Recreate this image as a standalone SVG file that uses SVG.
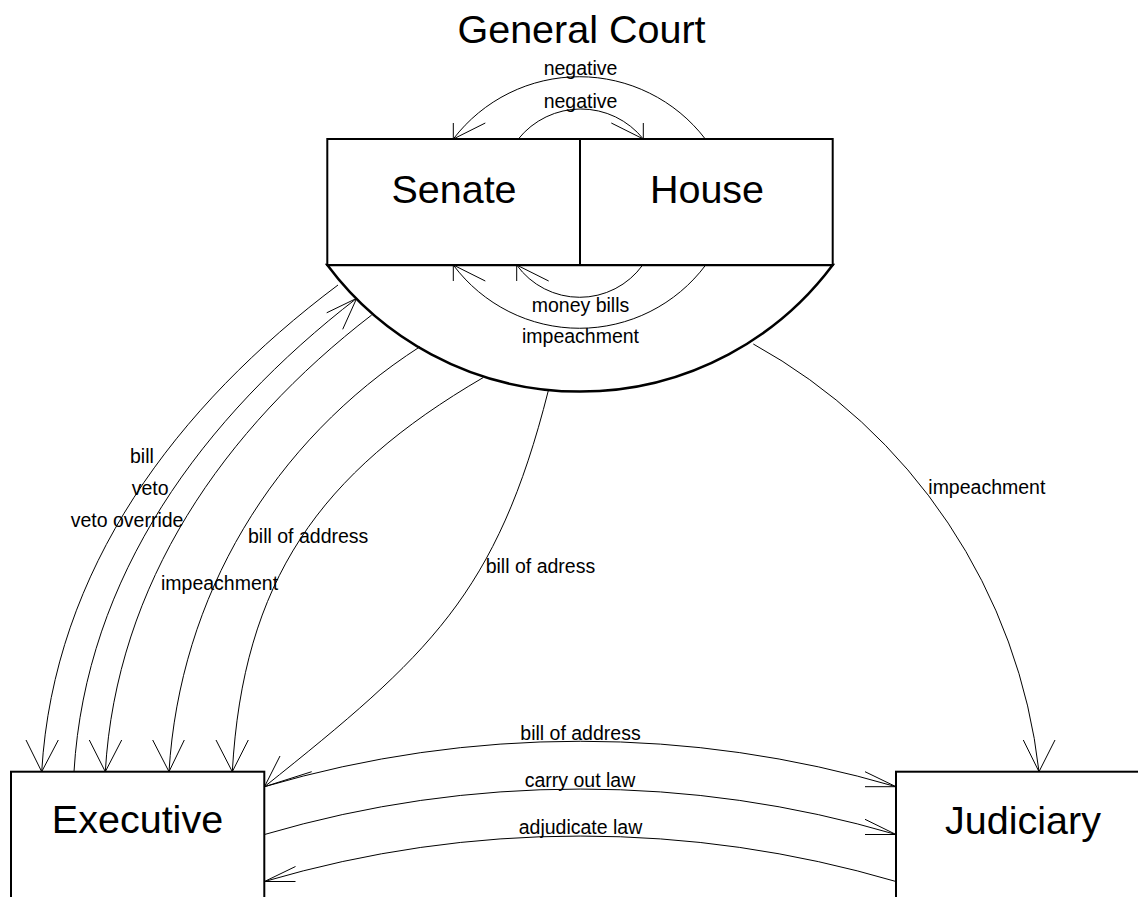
<svg xmlns="http://www.w3.org/2000/svg" width="1138" height="897" viewBox="0 0 1138 897">
<style>
.box{fill:#fff;stroke:#000;stroke-width:2}
.shell{fill:#fff;stroke:#000;stroke-width:2.5}
.conn{fill:none;stroke:#000;stroke-width:1}
.big{font-family:"Liberation Sans",Arial,sans-serif;font-size:39.5px;fill:#000;text-anchor:middle}
.lbl{font-family:"Liberation Sans",Arial,sans-serif;font-size:19.5px;fill:#000}
.mid{text-anchor:middle}
</style>
<rect width="1138" height="897" fill="#fff"/>
<g id="general-court">
<path class="shell" d="M327.3,265 A315.5,315.5 0 0 0 832.7,265 Z"/>
<text class="big" x="581.5" y="43">General Court</text>
</g>
<g id="senate">
<rect class="box" x="327.3" y="139" width="252.7" height="126"/>
<text class="big" x="454" y="203">Senate</text>
</g>
<g id="house">
<rect class="box" x="580" y="139" width="252.7" height="126"/>
<text class="big" x="707" y="203">House</text>
</g>
<g id="executive">
<rect class="box" x="11" y="771.7" width="253.3" height="140"/>
<text class="big" x="137.5" y="833">Executive</text>
</g>
<g id="judiciary">
<rect class="box" x="896" y="771.7" width="254" height="140"/>
<text class="big" x="1023" y="834">Judiciary</text>
</g>
<g id="connectors">
<!-- negative (House to Senate) -->
<path class="conn" d="M705.3,139 A158.6,158.6 0 0 0 453.3,139"/>
<polyline class="conn" points="453.3,123 453.3,139 485.3,123"/>
<!-- negative (Senate to House) -->
<path class="conn" d="M518.3,139 A80.1,80.1 0 0 1 643.3,139"/>
<polyline class="conn" points="643.3,123 643.3,139 611.3,123"/>
<!-- money bills -->
<path class="conn" d="M642.7,265 A77.6,77.6 0 0 1 516.7,265"/>
<polyline class="conn" points="516.7,281 516.7,265 548.7,281"/>
<!-- impeachment (House to Senate) -->
<path class="conn" d="M705.7,265 A157.5,157.5 0 0 1 453.3,265"/>
<polyline class="conn" points="453.3,281 453.3,265 485.3,281"/>
<!-- bill -->
<path class="conn" d="M338,285 C176.4,406.2 53.7,569 41.7,771.7"/>
<polyline class="conn" points="26,740 41.7,771.7 58.3,740"/>
<!-- veto -->
<path class="conn" d="M74,771.7 C85.7,576 202.7,417.3 356.7,298.3"/>
<polyline class="conn" points="326.7,312.8 356.7,298.3 342.7,329.3"/>
<!-- veto override -->
<path class="conn" d="M371.7,315 C223.7,429 116.3,583.5 105.3,771.7"/>
<polyline class="conn" points="89.3,740 105.3,771.7 121.7,740"/>
<!-- impeachment -->
<path class="conn" d="M420,346.7 C273,441.2 179.8,596 169,771.7"/>
<polyline class="conn" points="152.7,740 169,771.7 184.3,740"/>
<!-- bill of address -->
<path class="conn" d="M483.3,377.5 C319.1,473.3 243.1,581 232.3,771.7"/>
<polyline class="conn" points="216,740 232.3,771.7 248.3,740"/>
<!-- bill of adress -->
<path class="conn" d="M548.3,390.7 C496.8,594.4 428.8,655.4 264.5,786.7"/>
<polyline class="conn" points="280,756 264.5,786.7 311.7,771.7"/>
<!-- impeachment to Judiciary -->
<path class="conn" d="M753.3,344 A560.2,560.2 0 0 1 1039,771.7"/>
<polyline class="conn" points="1023.3,740 1039,771.7 1055,740"/>
<!-- bottom arcs -->
<path class="conn" d="M264.5,786.7 A1120,1120 0 0 1 896,786.7"/>
<polyline class="conn" points="865,771.7 896,786.7 865,786.7"/>
<path class="conn" d="M264.5,834.5 A1120,1120 0 0 1 896,834.5"/>
<polyline class="conn" points="865,819.3 896,834.5 865,834.5"/>
<path class="conn" d="M896,881.5 A1120,1120 0 0 0 264.5,881.5"/>
<polyline class="conn" points="295.5,866.5 264.5,881.5 295.5,881.5"/>
<!-- labels -->
<text class="lbl mid" x="580.5" y="75">negative</text>
<text class="lbl mid" x="580.5" y="107.5">negative</text>
<text class="lbl mid" x="580.5" y="312">money bills</text>
<text class="lbl mid" x="580.5" y="343">impeachment</text>
<text class="lbl" x="130" y="463">bill</text>
<text class="lbl" x="131.7" y="495">veto</text>
<text class="lbl" x="70.7" y="526.7">veto override</text>
<text class="lbl" x="161" y="589.5">impeachment</text>
<text class="lbl" x="248" y="542.5">bill of address</text>
<text class="lbl" x="485.7" y="572.5">bill of adress</text>
<text class="lbl" x="928.3" y="494">impeachment</text>
<text class="lbl mid" x="580.5" y="740">bill of address</text>
<text class="lbl mid" x="580" y="787">carry out law</text>
<text class="lbl mid" x="580.5" y="834">adjudicate law</text>
</g>
</svg>
